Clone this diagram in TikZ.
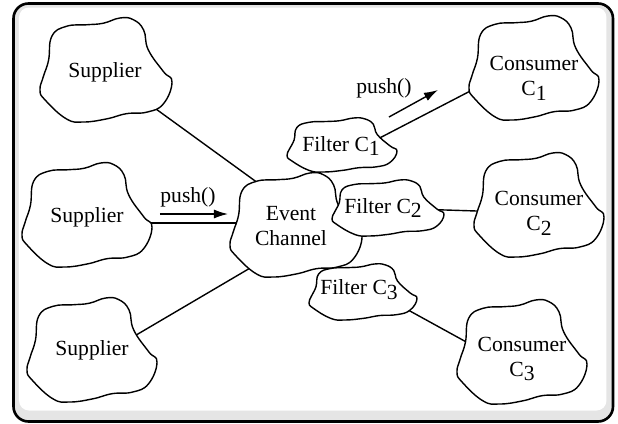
\documentclass[tikz,border=0pt]{standalone}
\usepackage{fontspec}
\setmainfont{Liberation Serif}
\usetikzlibrary{arrows.meta}
\pgfdeclarelayer{frame}
\pgfdeclarelayer{lines}
\pgfsetlayers{frame,lines,main}
\definecolor{bandgray}{gray}{0.9}

\newcommand{\lowidx}[1]{\raisebox{-2.4pt}{#1}}
\newcommand{\blob}[3]{%
  \draw[cloudline, shift={#1}, xscale=#2, yscale=#3]
    plot[smooth cycle, tension=0.75] coordinates {(-0.82,-0.65) (-0.60,-0.84) (-0.29,-0.87)
      (-0.04,-0.90) (0.21,-1.0) (0.41,-0.97) (0.57,-0.77) (0.64,-0.39) (0.87,0.03)
      (1.0,0.23) (0.87,0.65) (0.62,0.81) (0.31,0.84) (0.01,0.94) (-0.34,1.0)
      (-0.60,0.94) (-0.92,0.58) (-1.0,0.39) (-0.95,0.13) (-0.87,-0.19)};}

\begin{document}
\begin{tikzpicture}[x=0.5pt, y=-0.5pt, >={Latex[length=7pt,width=4.5pt]},
    cloudline/.style={draw, fill=white, line width=0.7pt},
    cloudtext/.style={align=center, inner sep=0pt, font=\fontsize{10.8}{12.5}\selectfont},
    wire/.style={line width=0.7pt}]
    \useasboundingbox (0,0) rectangle (618,424);

    \begin{pgfonlayer}{frame}
        \draw[line width=1.3pt, rounded corners=7.5pt, fill=bandgray] (13.5,3.5) rectangle (613,421.5);
        \fill[white, rounded corners=5pt] (19,7.5) rectangle (606.5,410.5);
    \end{pgfonlayer}

    \blob{(106,70)}{66}{52}
    \blob{(87,215)}{65}{52}
    \blob{(92,350)}{65}{52}
    \blob{(296,225)}{66}{52}
    \blob{(342,145)}{55}{27}
    \blob{(388,208)}{56}{28}
    \blob{(363,292)}{54}{28}
    \blob{(534,68)}{65}{52}
    \blob{(539,205)}{65}{52}
    \blob{(522,352)}{65}{52}

    \node[cloudtext] at (105, 72) (sup1) {Supplier};
    \node[cloudtext] at (87, 217) (sup2) {Supplier};
    \node[cloudtext] at (92, 350) (sup3) {Supplier};
    \node[cloudtext] at (291, 226) (chan) {Event\\Channel};
    \node[cloudtext] at (341, 146) (fc1) {Filter C\lowidx{1}};
    \node[cloudtext] at (383, 208) (fc2) {Filter C\lowidx{2}};
    \node[cloudtext] at (359, 290) (fc3) {Filter C\lowidx{3}};
    \node[cloudtext] at (534, 78) (cc1) {Consumer\\C\lowidx{1}};
    \node[cloudtext] at (539, 213) (cc2) {Consumer\\C\lowidx{2}};
    \node[cloudtext] at (522, 359) (cc3) {Consumer\\C\lowidx{3}};

    \coordinate (push1a) at (160, 214);
    \coordinate (push1b) at (228, 214);
    \coordinate (push2a) at (389, 117);
    \coordinate (push2b) at (438, 90);
    \node[cloudtext] at (188, 197) (push1) {push()};
    \node[cloudtext] at (384, 88) (push2) {push()};

    \draw[wire, ->] (push1a) -- (push1b);
    \draw[wire, ->] (push2a) -- (push2b);

    \begin{pgfonlayer}{lines}
        \draw[wire] (sup1.center) -- ([yshift=9.5pt]chan.center);
        \draw[wire] ([yshift=1.5pt]chan.center) -- ([yshift=1.5pt]chan.center -| sup2.center);
        \draw[wire] ([yshift=-5.5pt]sup3.center) -- ([yshift=-9pt]chan.center);
        \draw[wire] ([yshift=-6pt]fc1.center) -- ([yshift=10pt]cc1.center);
        \draw[wire] (fc2.center) -- (cc2.center);
        \draw[wire] ([yshift=3.5pt]fc3.center) -- ([yshift=-6.8pt]cc3.center);
    \end{pgfonlayer}
\end{tikzpicture}
\end{document}
